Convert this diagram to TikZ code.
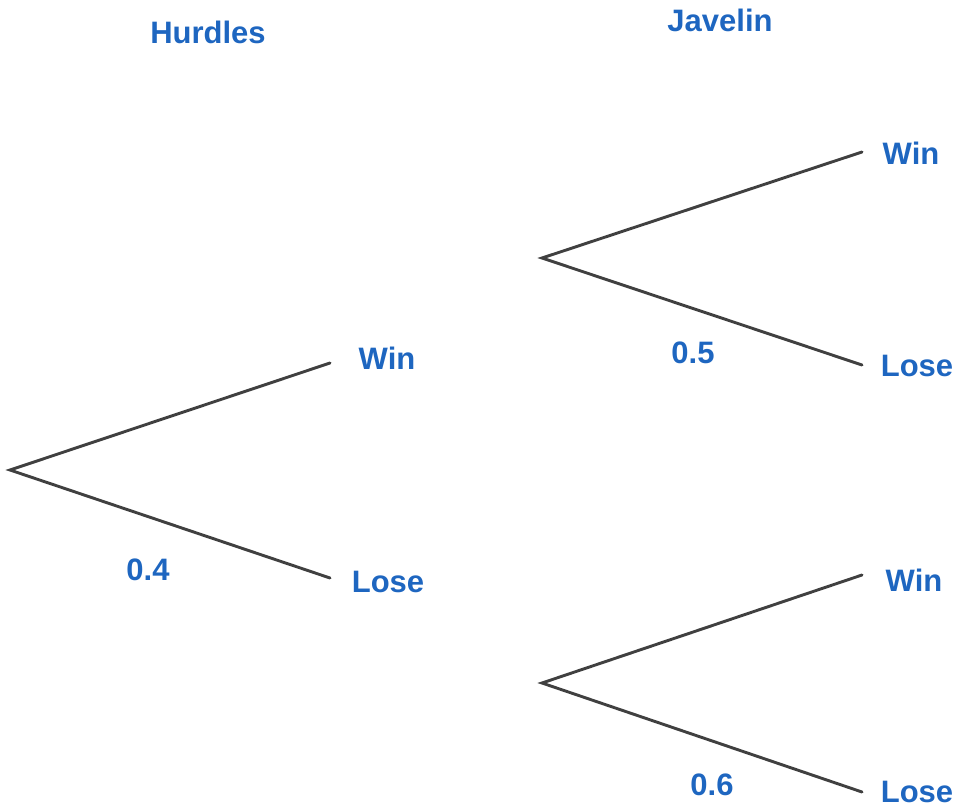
\documentclass[tikz,border=0pt]{standalone}
\usepackage{fontspec}
\setmainfont{Liberation Sans}
\definecolor{labelblue}{HTML}{1E66C0}
\definecolor{branchgray}{HTML}{404040}
\tikzset{
  lbl/.style={text=labelblue, font=\fontsize{31}{34}\selectfont\bfseries, inner sep=0pt},
  branch/.style={draw=branchgray, line width=2.9pt, line cap=round}
}
\begin{document}
\begin{tikzpicture}[x=1pt,y=-1pt]
  \useasboundingbox (0,0) rectangle (956,806);
  % branch points and ends
  \coordinate (R) at (10,470);
  \coordinate (RW) at (330,363);
  \coordinate (RL) at (330,578);
  \coordinate (U) at (542,258);
  \coordinate (UW) at (862,152);
  \coordinate (UL) at (862,365);
  \coordinate (D) at (542,683);
  \coordinate (DW) at (862,575);
  \coordinate (DL) at (862,792);
  \draw[branch] (RW) -- (R) -- (RL);
  \draw[branch] (UW) -- (U) -- (UL);
  \draw[branch] (DW) -- (D) -- (DL);
  % headings
  \node[lbl] (hurdles) at (208,32) {Hurdles};
  \node[lbl] (javelin) at (720,20) {Javelin};
  % outcomes
  \node[lbl] (hwin) at (387,358) {Win};
  \node[lbl] (hlose) at (388,582) {Lose};
  \node[lbl] (jwin1) at (911,153) {Win};
  \node[lbl] (jlose1) at (917,366) {Lose};
  \node[lbl] (jwin2) at (914,580) {Win};
  \node[lbl] (jlose2) at (917,792) {Lose};
  % probabilities
  \node[lbl] (p1) at (148,570) {0.4};
  \node[lbl] (p2) at (693,353) {0.5};
  \node[lbl] (p3) at (712,785) {0.6};
\end{tikzpicture}
\end{document}
